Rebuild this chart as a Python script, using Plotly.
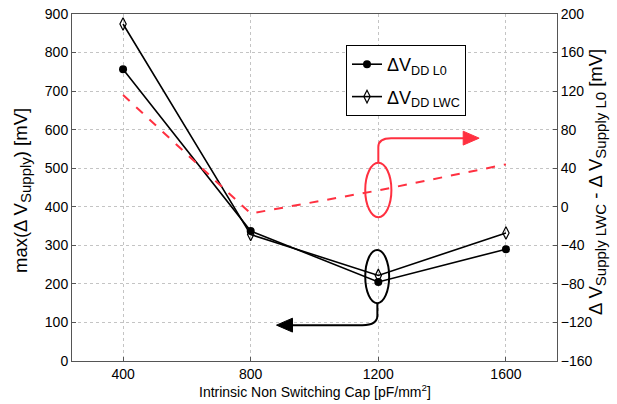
import plotly.graph_objects as go

caps = [400, 800, 1200, 1600]
dv_l0 = [757, 337, 205, 290]
dv_lwc = [874, 328, 222, 332]
dv_diff = [116, -7, 17, 44]

x_ticks = [400, 800, 1200, 1600]
y_ticks = list(range(0, 901, 100))
y2_ticks = list(range(-160, 201, 40))

font = "Liberation Sans, Arial, sans-serif"
red = "#FF3040"

def sub(t, px=15):
    return f"<sub><span style='font-size:{px}px'>{t}</span></sub>"

fig = go.Figure()
fig.add_trace(go.Scatter(x=caps, y=dv_l0, mode="lines+markers",
                         name="ΔV<sub>DD L0</sub>", legendgroup="a",
                         line=dict(color="black", width=1.6),
                         marker=dict(symbol="circle", size=8, color="black")))
fig.add_trace(go.Scatter(x=caps, y=dv_lwc, mode="lines+markers",
                         name="ΔV<sub>DD LWC</sub>", legendgroup="b",
                         line=dict(color="black", width=1.6),
                         marker=dict(symbol="diamond-tall-open", size=9, color="black",
                                     line=dict(width=1.2))))
fig.add_trace(go.Scatter(x=caps, y=dv_diff, mode="lines", yaxis="y2",
                         showlegend=False,
                         line=dict(color=red, width=2, dash="dash")))

shapes = [
    dict(type="circle", xref="x", yref="y", x0=1159, x1=1241, y0=373, y1=514,
         line=dict(color=red, width=2)),
    dict(type="path", xref="x", yref="y",
         path="M 1200 514 L 1200 555 Q 1200 578 1240 578 L 1480 578",
         line=dict(color=red, width=2)),
    dict(type="path", xref="x", yref="y",
         path="M 1516 578 L 1466 596 L 1466 560 Z",
         fillcolor=red, line=dict(color=red, width=1)),
    dict(type="circle", xref="x", yref="y", x0=1159, x1=1234, y0=150, y1=288,
         line=dict(color="black", width=2)),
    dict(type="path", xref="x", yref="y",
         path="M 1197 150 L 1197 118 Q 1197 93 1150 93 L 920 93",
         line=dict(color="black", width=2)),
    dict(type="path", xref="x", yref="y",
         path="M 881 93 L 931 75 L 931 111 Z",
         fillcolor="black", line=dict(color="black", width=1)),
]

axis_common = dict(showline=True, linecolor="#555555", linewidth=1,
                   ticks="inside", ticklen=4, tickcolor="#555555",
                   tickfont=dict(family=font, size=14, color="black"),
                   zeroline=False, automargin=False)

L, R, T, B = 72, 60, 14, 43
W, H = 617, 404
pw, ph = W - L - R, H - T - B

annotations = [
    dict(text="max(Δ V" + sub("Supply") + ") [mV]", xref="paper", yref="paper",
         x=(22 - L) / pw, y=1 - (191 - T) / ph, xanchor="center", yanchor="middle",
         textangle=-90, showarrow=False, font=dict(family=font, size=18.5)),
    dict(text="Δ V" + sub("Supply LWC") + " - Δ V" + sub("Supply L0") + " [mV]",
         xref="paper", yref="paper",
         x=(597 - L) / pw, y=1 - (182 - T) / ph, xanchor="center", yanchor="middle",
         textangle=-90, showarrow=False, font=dict(family=font, size=18.5)),
    dict(text="Intrinsic Non Switching Cap [pF/mm<sup>2</sup>]",
         xref="paper", yref="paper",
         x=0.5, y=-(391 - T - ph) / ph, xanchor="center", yanchor="middle",
         showarrow=False, font=dict(family=font, size=14)),
]

fig.update_layout(
    width=W, height=H,
    margin=dict(l=L, r=R, t=T, b=B, autoexpand=False),
    paper_bgcolor="white", plot_bgcolor="white",
    font=dict(family=font, color="black"),
    shapes=shapes,
    annotations=annotations,
    xaxis=dict(range=[240, 1760], tickvals=x_ticks, mirror=True,
               showgrid=True, gridcolor="#C4C4C4", griddash="dot", gridwidth=1,
               **axis_common),
    yaxis=dict(range=[0, 900], tickvals=y_ticks,
               showgrid=True, gridcolor="#C4C4C4", griddash="dot", gridwidth=1,
               **axis_common),
    yaxis2=dict(range=[-160, 200], tickvals=y2_ticks, overlaying="y", side="right",
                showgrid=False, **axis_common),
    legend=dict(x=(346 - L) / pw, y=1 - (45 - T) / ph, xanchor="left", yanchor="top",
                bgcolor="white", bordercolor="black", borderwidth=1,
                font=dict(family=font, size=18), itemwidth=30,
                tracegroupgap=6),
    showlegend=True,
)

fig.write_html("out.html", config={"displayModeBar": False},
               post_script="document.body.style.margin='0px';")
